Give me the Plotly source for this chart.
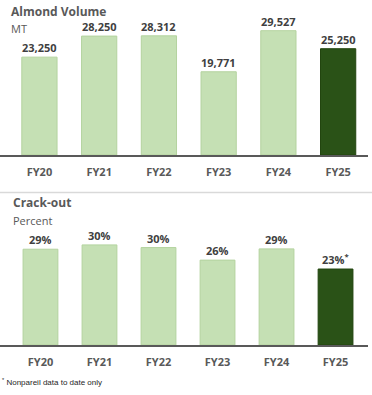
import plotly.graph_objects as go

categories = ["FY20", "FY21", "FY22", "FY23", "FY24", "FY25"]
volume_mt = [23250, 28250, 28312, 19771, 29527, 25250]
volume_labels = ["23,250", "28,250", "28,312", "19,771", "29,527", "25,250"]
crackout_pct = [29.0, 30.3, 29.5, 25.7, 29.1, 23.0]
crackout_labels = ["29%", "30%", "30%", "26%", "29%", "23%<sup>*</sup>"]

LIGHT = "#c5e0b4"
DARK = "#2a5217"
colors = [LIGHT] * 5 + [DARK]
line_colors = ["#b4d39f"] * 5 + ["#22450f"]

W, H = 372, 395
FONT = "Open Sans"


def py(p):
    return 1 - p / H


fig = go.Figure()

fig.add_trace(go.Bar(
    x=categories, y=volume_mt,
    marker=dict(color=colors, line=dict(color=line_colors, width=1)),
    xaxis="x", yaxis="y", hoverinfo="skip",
))
fig.add_trace(go.Bar(
    x=categories, y=crackout_pct,
    marker=dict(color=colors, line=dict(color=line_colors, width=1)),
    xaxis="x2", yaxis="y2", hoverinfo="skip",
))

label_font = dict(family=FONT, size=11, color="#404040", weight="bold")
for xr, yr, vals, labels in (("x", "y", volume_mt, volume_labels),
                              ("x2", "y2", crackout_pct, crackout_labels)):
    for c, v, t in zip(categories, vals, labels):
        fig.add_annotation(x=c, y=v, xref=xr, yref=yr, text=t, showarrow=False,
                           yanchor="bottom", xanchor="center", yshift=0,
                           font=label_font)

xcommon = dict(
    showline=True, linecolor="#595959", linewidth=1.5, showgrid=False,
    zeroline=False, ticks="", ticklabelstandoff=6,
    tickfont=dict(family=FONT, size=11, color="#595959", weight="bold"),
    domain=[0, 368 / W], fixedrange=True,
)
fig.update_layout(
    width=W, height=H,
    margin=dict(l=0, r=0, t=0, b=0),
    paper_bgcolor="white", plot_bgcolor="white",
    showlegend=False, bargap=0.41,
    xaxis=dict(**xcommon, range=[-0.66, 5.5], anchor="y"),
    xaxis2=dict(**xcommon, range=[-0.686, 5.55], anchor="y2"),
    yaxis=dict(domain=[py(155), py(24.5)], range=[0, 31000], visible=False, fixedrange=True),
    yaxis2=dict(domain=[py(345), py(236)], range=[0, 33], visible=False, fixedrange=True),
)

title_font = dict(family=FONT, size=12, color="#595959", weight="bold")
sub_font = dict(family=FONT, size=11, color="#595959")
annos = [
    dict(text="Almond Volume", x=9 / W, y=py(11), font=title_font),
    dict(text="MT", x=9 / W, y=py(29), font=sub_font),
    dict(text="Crack-out", x=11 / W, y=py(203), font=title_font),
    dict(text="Percent", x=11 / W, y=py(220), font=sub_font),
    dict(text="<sup>*</sup> Nonpareil data to date only", x=0 / W, y=py(382),
         font=dict(family="Liberation Sans", size=8, color="#262626")),
]
for a in annos:
    fig.add_annotation(xref="paper", yref="paper", xanchor="left", yanchor="middle",
                       showarrow=False, **a)

fig.add_shape(type="line", xref="paper", yref="paper", x0=0, x1=1,
              y0=py(192.5), y1=py(192.5), line=dict(color="#d9d9d9", width=1.5))

fig.write_html("out.html", config={"displayModeBar": False},
               post_script="document.body.style.margin='0';document.body.style.padding='0';")
